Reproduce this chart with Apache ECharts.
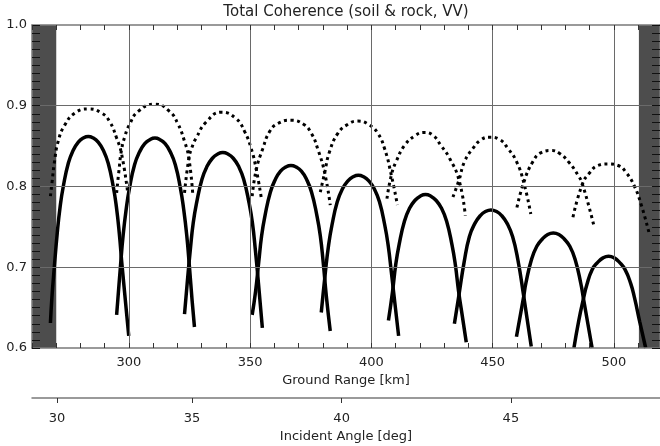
<!DOCTYPE html>
<html>
<head>
<meta charset="utf-8">
<script src="https://cdn.jsdelivr.net/npm/echarts@6/dist/echarts.min.js"></script>
<style>
html,body{margin:0;padding:0;background:#fff;}
#chart{width:660px;height:446px;}
</style>
</head>
<body>
<div id="chart"></div>
<script>
// ---- data (ground range [km], coherence) ----
const solidArc1 = [[267.6,0.631],[268.2,0.662],[269.2,0.700],[270.4,0.742],[271.6,0.775],[272.9,0.800],[275.0,0.829],[277.0,0.845],[279.1,0.855],[281.1,0.860],[283.2,0.862],[285.3,0.860],[287.3,0.855],[289.4,0.845],[291.4,0.829],[293.5,0.800],[294.8,0.775],[296.0,0.742],[297.2,0.700],[299.9,0.615]];
const solidArc2 = [[294.9,0.641],[295.4,0.660],[296.4,0.698],[297.6,0.740],[298.9,0.773],[300.2,0.798],[302.3,0.827],[304.4,0.843],[306.5,0.853],[308.6,0.858],[310.7,0.860],[312.8,0.858],[314.9,0.853],[317.0,0.843],[319.1,0.827],[321.2,0.798],[322.5,0.773],[323.8,0.740],[325.0,0.698],[326.0,0.660],[327.0,0.626]];
const solidArc3 = [[322.9,0.642],[324.0,0.680],[325.3,0.722],[326.5,0.755],[327.9,0.780],[330.1,0.809],[332.2,0.825],[334.4,0.835],[336.5,0.840],[338.7,0.842],[340.9,0.840],[343.0,0.835],[345.2,0.825],[347.3,0.809],[349.5,0.780],[350.9,0.755],[352.1,0.722],[353.4,0.680],[355.0,0.625]];
const solidArc4 = [[350.8,0.641],[352.2,0.670],[353.5,0.706],[354.7,0.739],[356.1,0.764],[358.3,0.793],[360.4,0.809],[362.5,0.819],[364.6,0.824],[366.8,0.826],[369.0,0.824],[371.1,0.819],[373.2,0.809],[375.3,0.793],[377.5,0.764],[378.9,0.739],[380.1,0.706],[381.4,0.664],[383.0,0.621]];
const solidArc5 = [[379.3,0.644],[381.0,0.694],[382.3,0.727],[383.7,0.752],[385.9,0.781],[388.0,0.797],[390.3,0.807],[392.4,0.812],[394.6,0.814],[396.8,0.812],[398.9,0.807],[401.2,0.797],[403.3,0.781],[405.5,0.752],[406.9,0.727],[408.2,0.694],[411.2,0.615]];
const solidArc6 = [[407.0,0.634],[408.7,0.670],[410.0,0.703],[411.4,0.728],[413.6,0.757],[415.7,0.773],[418.0,0.783],[420.1,0.788],[422.3,0.790],[424.5,0.788],[426.6,0.783],[428.9,0.773],[431.0,0.757],[433.2,0.728],[434.6,0.703],[435.9,0.671],[437.6,0.637],[439.1,0.607]];
const solidArc7 = [[434.2,0.630],[436.1,0.666],[438.2,0.706],[440.4,0.738],[442.6,0.754],[444.9,0.764],[447.0,0.769],[449.3,0.771],[451.6,0.769],[453.7,0.764],[456.0,0.754],[458.2,0.738],[460.4,0.709],[462.8,0.664],[465.9,0.602]];
const solidArc8 = [[459.8,0.614],[462.8,0.664],[463.7,0.6805],[466.0,0.7095],[468.2,0.726],[470.5,0.735],[472.7,0.7406],[475.0,0.7425],[477.3,0.7406],[479.5,0.735],[481.8,0.726],[484.0,0.7095],[486.3,0.6805],[487.5,0.660],[491.0,0.600]];
const solidArc9 = [[483.5,0.600],[485.5,0.634],[487.5,0.662],[488.8,0.678],[491.0,0.697],[493.3,0.706],[495.5,0.7116],[497.8,0.7136],[500.1,0.7116],[502.3,0.706],[504.6,0.697],[506.9,0.680],[508.5,0.662],[510.6,0.633],[513.1,0.600]];

const dottedArc1 = [[267.6,0.788],[268.3,0.806],[269.2,0.829],[270.8,0.856],[273.5,0.876],[277.7,0.891],[283.2,0.896],[288.7,0.891],[292.1,0.880],[294.9,0.860],[296.9,0.841],[299.4,0.794]];
const dottedArc2 = [[294.9,0.792],[295.8,0.818],[296.9,0.845],[298.3,0.862],[300.1,0.876],[303.8,0.893],[310.7,0.902],[316.7,0.893],[320.1,0.878],[322.9,0.856],[324.7,0.835],[326.3,0.790]];
const dottedArc3 = [[322.9,0.792],[324.7,0.835],[325.9,0.848],[327.7,0.860],[331.9,0.880],[338.1,0.892],[344.2,0.884],[347.7,0.868],[350.4,0.847],[352.5,0.821],[354.6,0.785]];
const dottedArc4 = [[350.8,0.788],[352.5,0.821],[355.2,0.847],[358.0,0.868],[361.4,0.878],[366.8,0.882],[372.0,0.877],[375.2,0.866],[377.9,0.846],[380.7,0.817],[383.0,0.777]];
const dottedArc5 = [[378.9,0.793],[380.7,0.817],[382.7,0.843],[386.2,0.866],[390.3,0.877],[394.4,0.881],[399.2,0.876],[402.6,0.866],[405.4,0.847],[408.2,0.814],[410.7,0.777]];
const dottedArc6 = [[406.4,0.785],[408.2,0.814],[410.2,0.831],[413.7,0.851],[418.0,0.863],[421.8,0.867],[425.5,0.863],[428.6,0.851],[432.2,0.835],[436.1,0.808],[438.7,0.764]];
const dottedArc7 = [[433.6,0.787],[436.1,0.808],[438.4,0.831],[441.8,0.847],[445.3,0.858],[448.7,0.861],[452.9,0.858],[456.3,0.847],[459.8,0.831],[462.8,0.805],[465.7,0.766]];
const dottedArc8 = [[460.0,0.774],[462.8,0.805],[466.6,0.831],[470.0,0.842],[474.2,0.8445],[477.6,0.841],[481.7,0.829],[485.2,0.814],[487.0,0.803],[491.6,0.753]];
const dottedArc9 = [[483.1,0.762],[487.0,0.803],[490.0,0.817],[493.4,0.826],[497.5,0.828],[501.7,0.826],[505.1,0.817],[508.5,0.800],[511.3,0.777],[514.7,0.740]];

// axis ticks / labels
const groundTickLabels = [300, 350, 400, 450, 500];
const coherenceTickLabels = [0.6, 0.7, 0.8, 0.9, 1.0];
const angleTickLabels = [30, 35, 40, 45];
const angleTickGroundRange = [270.3, 326.0, 387.7, 457.5];
const grayBands = [[260, 270], [510.3, 519]];
const groundRangeExtent = [260, 519];
const coherenceExtent = [0.6, 1.0];

const solidArcs = [solidArc1,solidArc2,solidArc3,solidArc4,solidArc5,solidArc6,solidArc7,solidArc8,solidArc9];
const dottedArcs = [dottedArc1,dottedArc2,dottedArc3,dottedArc4,dottedArc5,dottedArc6,dottedArc7,dottedArc8,dottedArc9];

const FONT = 'DejaVu Sans';
const TXT = '#222';
const AXC = '#7a7a7a';
const TICKC = '#111';

const chart = echarts.init(document.getElementById('chart'), null, {renderer: 'canvas'});

const series = [];
series.push({
  type: 'line', data: [], z: 1, silent: true,
  markArea: {
    silent: true,
    itemStyle: {color: '#4d4d4d', opacity: 1},
    label: {show: false},
    data: grayBands.map(b => [{xAxis: b[0]}, {xAxis: b[1]}])
  }
});
series.push({
  type: 'line', data: [], z: 2, silent: true,
  markLine: {
    silent: true, symbol: ['none', 'none'], animation: false,
    label: {show: false},
    lineStyle: {color: '#6a6a6a', width: 1, type: 'solid'},
    data: groundTickLabels.map(v => ({xAxis: v})).concat(
      coherenceTickLabels.filter(v => v > coherenceExtent[0] && v < coherenceExtent[1]).map(v => ({yAxis: v})))
  }
});
solidArcs.forEach(d => series.push({
  type: 'line', data: d, z: 4, showSymbol: false, smooth: 0.5,
  lineStyle: {color: '#000', width: 3.5}, silent: true
}));
dottedArcs.forEach(d => series.push({
  type: 'line', data: d, z: 3, showSymbol: false, smooth: 0.5,
  lineStyle: {color: '#000', width: 3, type: [3, 3.6]}, silent: true
}));

const option = {
  animation: false,
  backgroundColor: '#fff',
  textStyle: {fontFamily: FONT},
  title: {
    text: 'Total Coherence (soil & rock, VV)',
    left: 346, top: 5, textAlign: 'center', padding: 0,
    textStyle: {fontFamily: FONT, fontSize: 15, fontWeight: 'normal', color: TXT}
  },
  grid: {left: 32, right: 0, top: 25, bottom: 98, containLabel: false, outerBoundsMode: 'none'},
  xAxis: [
    {
      type: 'value', position: 'bottom', min: groundRangeExtent[0], max: groundRangeExtent[1], interval: 10, z: 10,
      axisLine: {show: true, onZero: false, lineStyle: {color: AXC, width: 1.5}},
      axisTick: {show: true, inside: true, length: 5, lineStyle: {color: '#333', width: 1}},
      axisLabel: {customValues: groundTickLabels, fontSize: 13, color: TXT, margin: 8, fontFamily: FONT,
                  formatter: v => String(Math.round(v))},
      splitLine: {show: false},
      name: 'Ground Range [km]', nameLocation: 'middle', nameGap: 25,
      nameTextStyle: {fontSize: 13, color: TXT, fontFamily: FONT}
    },
    {
      type: 'value', position: 'top', min: groundRangeExtent[0], max: groundRangeExtent[1], interval: 10, z: 10,
      axisLine: {show: true, onZero: false, lineStyle: {color: AXC, width: 1.5}},
      axisTick: {show: true, inside: true, length: 5, lineStyle: {color: '#333', width: 1}},
      axisLabel: {show: false}, splitLine: {show: false}
    },
    {
      type: 'value', position: 'bottom', offset: 50, min: groundRangeExtent[0], max: groundRangeExtent[1], z: 10,
      axisLine: {show: true, onZero: false, lineStyle: {color: AXC, width: 1.5}},
      axisTick: {show: true, inside: false, length: 5, customValues: angleTickGroundRange, lineStyle: {color: '#333', width: 1}},
      axisLabel: {customValues: angleTickGroundRange, fontSize: 13, color: TXT, margin: 14, fontFamily: FONT,
                  formatter: v => {
                    const i = angleTickGroundRange.findIndex(g => Math.abs(g - v) < 1e-6);
                    return i >= 0 ? String(angleTickLabels[i]) : '';
                  }},
      splitLine: {show: false},
      name: 'Incident Angle [deg]', nameLocation: 'middle', nameGap: 31,
      nameTextStyle: {fontSize: 13, color: TXT, fontFamily: FONT}
    }
  ],
  yAxis: [
    {
      type: 'value', position: 'left', min: coherenceExtent[0], max: coherenceExtent[1], interval: 0.01, z: 10,
      axisLine: {show: true, onZero: false, lineStyle: {color: AXC, width: 1.5}},
      axisTick: {show: true, inside: true, length: 8, lineStyle: {color: TICKC, width: 1}},
      axisLabel: {customValues: coherenceTickLabels, fontSize: 13, color: TXT, margin: 5, fontFamily: FONT,
                  formatter: v => v.toFixed(1)},
      splitLine: {show: false}
    },
    {
      type: 'value', position: 'right', min: coherenceExtent[0], max: coherenceExtent[1], interval: 0.01, z: 10,
      axisLine: {show: true, onZero: false, lineStyle: {color: AXC, width: 1.5}},
      axisTick: {show: true, inside: true, length: 8, lineStyle: {color: TICKC, width: 1}},
      axisLabel: {show: false}, splitLine: {show: false}
    }
  ],
  series: series
};
chart.setOption(option);
</script>
</body>
</html>
